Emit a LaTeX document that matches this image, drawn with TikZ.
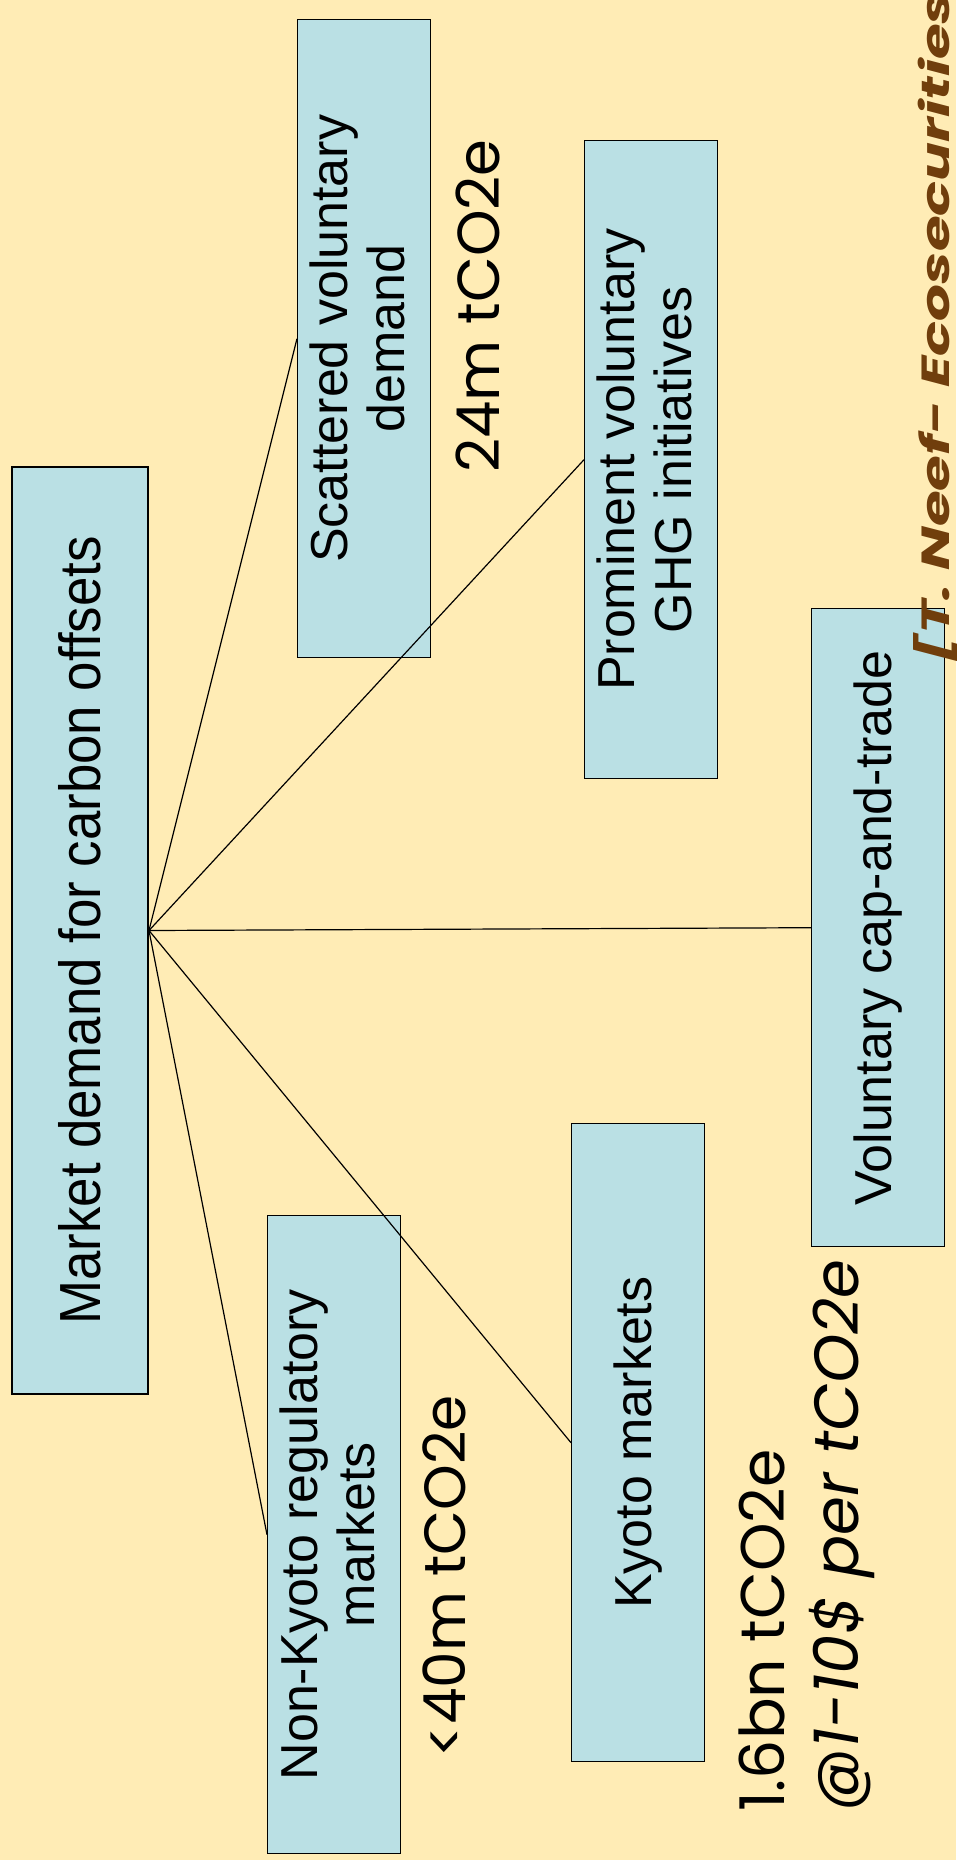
\documentclass[tikz,border=0pt]{standalone}
\usepackage{fontspec}
\setmainfont{Liberation Sans}
\newfontfamily\comicfont{Poppins}
\definecolor{bgyellow}{RGB}{255,236,181}
\definecolor{boxfill}{RGB}{186,224,228}
\definecolor{srcbrown}{RGB}{112,62,12}
\begin{document}
\begin{tikzpicture}[x=1pt,y=-1pt,
  box/.style={draw=black,line width=1.4pt,fill=boxfill,inner sep=0pt,anchor=north west,
              minimum width=133pt,minimum height=638pt},
  link/.style={line width=1.2pt},
  figure/.style={inner sep=0pt,text=black}]
\fill[bgyellow] (0,0) rectangle (956,1860);
\useasboundingbox (0,0) rectangle (956,1860);

\node[box,line width=2pt,minimum width=136pt,minimum height=927pt] (main) at (11,466)
  {\rotatebox{90}{\fontsize{58}{64}\selectfont\scalebox{0.91}[1]{Market demand for carbon offsets}}};

\node[box] (scat) at (297,19)
  {\rotatebox{90}{\fontsize{52}{57}\selectfont\begin{tabular}{@{}c@{}}Scattered voluntary\\demand\end{tabular}}};
\node[box] (prom) at (584,140)
  {\rotatebox{90}{\fontsize{52}{57}\selectfont\begin{tabular}{@{}c@{}}Prominent voluntary\\GHG initiatives\end{tabular}}};
\node[box] (cap) at (811,608)
  {\rotatebox{90}{\fontsize{52}{57}\selectfont Voluntary cap-and-trade}};
\node[box] (nonk) at (267,1215)
  {\rotatebox{90}{\fontsize{52}{57}\selectfont\begin{tabular}{@{}c@{}}Non-Kyoto regulatory\\markets\end{tabular}}};
\node[box] (kyoto) at (571,1123)
  {\rotatebox{90}{\fontsize{52}{57}\selectfont Kyoto markets}};

\draw[link] (main.east) -- (scat.west);
\draw[link] (main.east) -- (prom.west);
\draw[link] (main.east) -- (cap.west);
\draw[link] (main.east) -- (nonk.west);
\draw[link] (main.east) -- (kyoto.west);

\node[figure] (f24) at (478,306)
  {\rotatebox{90}{\resizebox{333pt}{!}{\comicfont 24m tCO2e}}};
\node[figure] (f40) at (444,1576)
  {\rotatebox{90}{\resizebox{362pt}{!}{\comicfont <40m tCO2e}}};
\node[figure,anchor=south] (f16) at (762,1812)
  {\rotatebox{90}{\resizebox{362pt}{!}{\comicfont 1.6bn tCO2e}}};
\node[figure,anchor=south] (fprice) at (842,1812)
  {\rotatebox{90}{\resizebox{552pt}{!}{\comicfont\itshape @1-10\$ per tCO2e}}};
\begin{scope}
\clip (0,0) rectangle (956,1860);
\node[inner sep=0pt,anchor=south,text=srcbrown] (src) at (935,664)
  {\rotatebox{90}{\resizebox{672pt}{36pt}{\comicfont\bfseries\itshape [T. Neef- Ecosecurities}}};
\end{scope}
\end{tikzpicture}
\end{document}
